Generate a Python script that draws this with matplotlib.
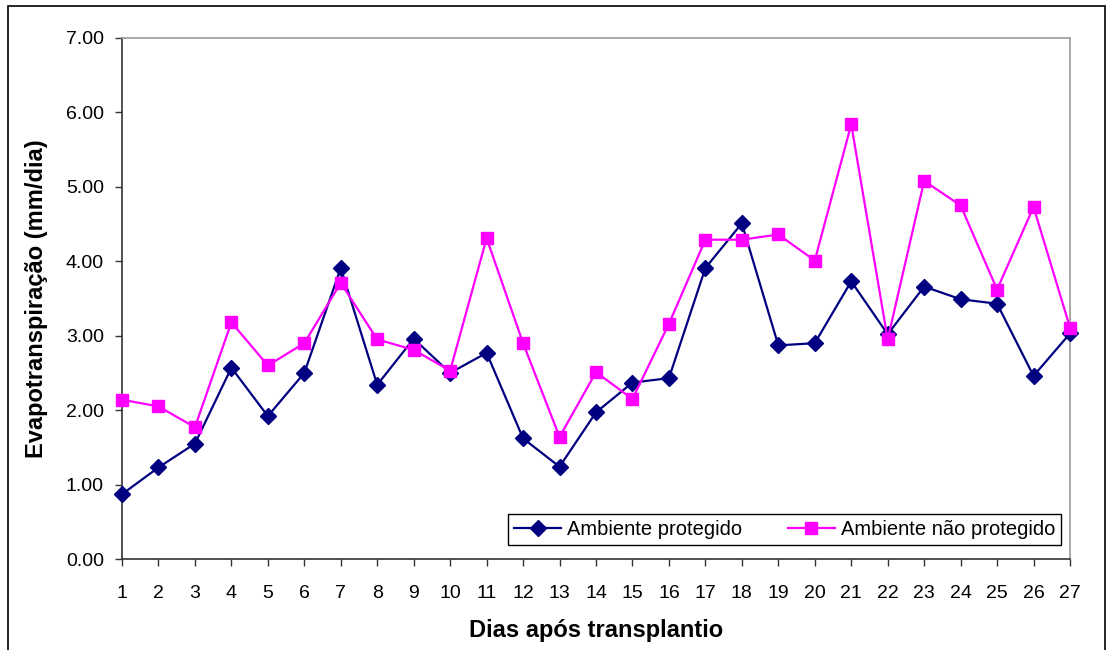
import matplotlib.pyplot as plt
from matplotlib.patches import Rectangle

plt.rcParams['font.family'] = ['Liberation Sans', 'DejaVu Sans']

dias = list(range(1, 28))

# Evapotranspiracao (mm/dia)
protegido = [0.87, 1.23, 1.55, 2.57, 1.92, 2.50, 3.91, 2.34, 2.96, 2.50,
             2.77, 1.62, 1.24, 1.97, 2.37, 2.43, 3.91, 4.51, 2.87, 2.90,
             3.73, 3.02, 3.66, 3.49, 3.43, 2.46, 3.03]
nao_protegido = [2.14, 2.05, 1.77, 3.18, 2.60, 2.90, 3.71, 2.95, 2.81, 2.53,
                 4.31, 2.90, 1.64, 2.51, 2.15, 3.16, 4.29, 4.29, 4.36, 4.01,
                 5.84, 2.95, 5.08, 4.75, 3.62, 4.73, 3.11]

y_ticks = [0, 1, 2, 3, 4, 5, 6, 7]

W, H = 1108, 650
fig = plt.figure(figsize=(W / 100, H / 100), dpi=100)

# plot area in pixels: left 122, right 1070, top 38, bottom 559
left, right, top, bottom = 122, 1070, 38, 559
ax = fig.add_axes([left / W, 1 - bottom / H, (right - left) / W, (bottom - top) / H])

ax.plot(dias, protegido, '-', color='#000080', lw=1.6, marker='D',
        markersize=8, label='Ambiente protegido', clip_on=False, zorder=3)
ax.plot(dias, nao_protegido, '-', color='#FF00FF', lw=1.6, marker='s',
        markersize=8, label='Ambiente não protegido', clip_on=False, zorder=3)

ax.set_xlim(1, 27)
ax.set_ylim(0, 7)
ax.set_xticks(dias)
ax.set_yticks(y_ticks)
ax.set_yticklabels([f'{v:.2f}' for v in y_ticks])
ax.tick_params(axis='both', labelsize=14, direction='out', length=5,
               width=1, color='#333333')
ax.tick_params(axis='y', pad=8)
ax.tick_params(axis='x', pad=14)

for side in ['top', 'right']:
    ax.spines[side].set_color('#9a9a9a')
    ax.spines[side].set_linewidth(1.2)
for side in ['left', 'bottom']:
    ax.spines[side].set_color('#333333')
    ax.spines[side].set_linewidth(1.2)

ax.set_xlabel('Dias após transplantio', fontsize=17, fontweight='bold', labelpad=12)
ax.set_ylabel('Evapotranspiração (mm/dia)', fontsize=17, fontweight='bold', labelpad=13)

leg = ax.legend(loc='lower right', bbox_to_anchor=(0.9905, 0.027), ncol=2,
                fontsize=14.5, frameon=True, fancybox=False, framealpha=1,
                edgecolor='black', borderpad=0.3, handlelength=2.3,
                columnspacing=2.3, handletextpad=0.3, borderaxespad=0)
leg.get_frame().set_linewidth(1.0)

# outer chart border
fig.patches.append(Rectangle((8 / W, -0.01), (1105 - 8) / W, 1 - 6 / H + 0.01,
                             transform=fig.transFigure, fill=False,
                             edgecolor='black', lw=1.2))

fig.savefig('out.png', dpi=100)
